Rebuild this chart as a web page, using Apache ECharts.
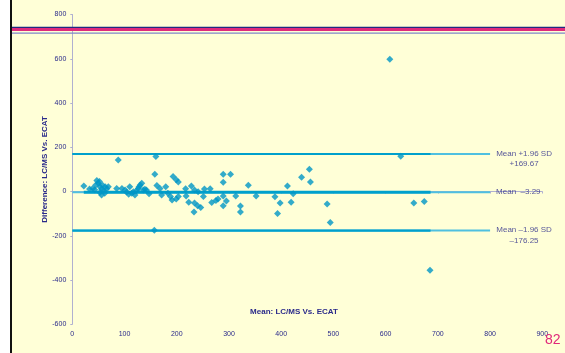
<!DOCTYPE html>
<html>
<head>
<meta charset="utf-8">
<script src="https://cdn.jsdelivr.net/npm/echarts@6/dist/echarts.min.js"></script>
<style>
  html, body { margin: 0; padding: 0; background: #ffffff; }
  #chart { width: 565px; height: 353px; }
</style>
</head>
<body>
<div id="chart"></div>
<script>
// Bland-Altman: mean of the two methods vs. their difference
const meanValues = [
  22, 33, 39, 43, 45, 47, 50, 52, 53, 53, 56, 56, 58, 60, 62, 63, 66, 69,
  85, 88, 95, 101, 104, 108, 110, 114, 117, 120, 123, 126, 128, 130, 133, 136, 139, 142, 147,
  157, 158, 160, 162, 168, 171, 179, 183, 188, 191, 193, 199, 199, 203, 203,
  217, 218, 223, 228, 233, 234, 234, 240, 241, 246, 251, 253, 264, 267, 275, 279,
  289, 289, 289, 289, 295, 303, 313, 322, 322, 337, 352,
  388, 393, 398, 412, 419, 423, 439, 454, 456, 488, 494,
  608, 629, 654, 674, 685,
];
const diffValues = [
  25, 11, 14, 8, 30, 50, 37, 45, 22, -4, 11, -16, 28, 5, -8, 22, 12, 22,
  14, 143, 14, 7, -2, -12, 22, -8, -1, -16, 4, 14, 22, 29, 37, 7, 10, 7, -10,
  -175, 78, 158, 27, 14, -16, 22, -8, -23, -38, 68, 53, -34, 43, -23,
  12, -20, -48, 25, -93, -52, 7, -64, -1, -72, -22, 11, 12, -50, -40, -34,
  -20, -64, 78, 42, -43, 78, -20, -65, -93, 28, -20,
  -24, -99, -52, 25, -49, -10, 65, 101, 43, -56, -140,
  598, 159, -52, -45, -356,
];

const limitLevels = [169.67, -3.29, -176.25];
const limitLabels = [
  ["Mean +1.96 SD", "+169.67"],
  ["Mean  \u20133.29"],
  ["Mean \u20131.96 SD", "\u2013176.25"],
];
const lineStart = [0, 22, 0];   // thick segment starts at the first mean value (mean line only)
const lineEnd = 686;            // thick segment ends at the last mean value
const extendEnd = 800;          // lighter extension

const X_TICKS = [0, 900, 100];
const Y_TICKS = [-600, 800, 200];

const points = meanValues.map((m, i) => [m, diffValues[i]]);

const TEXT = "#2A2A8A";
const FONT = "Liberation Sans, Arial, sans-serif";

const series = [];
limitLevels.forEach((v, i) => {
  series.push({
    type: "line",
    data: [[0, v], [extendEnd, v]],
    symbol: "none",
    silent: true,
    z: 1,
    lineStyle: { color: "#4FC0E0", width: 2 },
  });
  series.push({
    type: "line",
    data: [[lineStart[i], v], [lineEnd, v]],
    symbol: "none",
    silent: true,
    z: 2,
    lineStyle: { color: "#00A0CC", width: i === 1 ? 3 : 2.2 },
  });
});

series.push({
  type: "scatter",
  data: points,
  symbol: "diamond",
  symbolSize: 7,
  z: 5,
  itemStyle: { color: "#0096C6" },
});

series.push({
  type: "scatter",
  symbolSize: 0,
  silent: true,
  z: 6,
  data: limitLevels.map((v, i) => ({
    value: [extendEnd, v],
    label: {
      show: true,
      position: "right",
      distance: 6,
      offset: [0, limitLabels[i].length > 1 ? 5 : 0],
      formatter: limitLabels[i].length > 1
        ? "{a|" + limitLabels[i][0] + "}\n{b|" + limitLabels[i][1] + "}"
        : "{c|" + limitLabels[i][0] + "}",
      rich: {
        a: { width: 56, align: "center", color: TEXT, fontSize: 8, fontFamily: FONT, lineHeight: 10.5 },
        b: { width: 56, align: "center", color: TEXT, fontSize: 8, fontFamily: FONT, lineHeight: 10.5 },
        c: { color: TEXT, fontSize: 8, fontFamily: FONT },
      },
    },
  })),
});

const chart = echarts.init(document.getElementById("chart"), null, { renderer: "canvas" });
chart.setOption({
  animation: false,
  backgroundColor: "#FFFFD7",
  textStyle: { fontFamily: FONT },
  grid: { left: 72.3, right: 22.7, top: 14.5, bottom: 28.7 },
  title: {
    text: "Mean: LC/MS Vs. ECAT",
    left: 289,
    top: 303,
    textAlign: "center",
    textStyle: { color: TEXT, fontSize: 8, fontWeight: "bold", fontFamily: FONT },
  },
  xAxis: {
    type: "value",
    min: X_TICKS[0],
    max: X_TICKS[1],
    interval: X_TICKS[2],
    splitLine: { show: false },
    axisLine: { lineStyle: { color: "#B0B0D0", width: 1 } },
    axisTick: { length: 2, lineStyle: { color: "#B0B0D0" } },
    axisLabel: { color: TEXT, fontSize: 7, margin: 6 },
  },
  yAxis: {
    type: "value",
    min: Y_TICKS[0],
    max: Y_TICKS[1],
    interval: Y_TICKS[2],
    name: "Difference: LC/MS Vs. ECAT",
    nameLocation: "middle",
    nameGap: 24,
    nameMoveOverlap: false,
    nameTextStyle: { color: TEXT, fontSize: 8, fontWeight: "bold" },
    splitLine: { show: false },
    axisLine: { show: true, onZero: false, lineStyle: { color: "#B0B0D0", width: 1 } },
    axisTick: { show: true, length: 2, lineStyle: { color: "#B0B0D0" } },
    axisLabel: { color: TEXT, fontSize: 7, margin: 6 },
  },
  graphic: [
    { type: "rect", z: 100, shape: { x: 0, y: 0, width: 10, height: 353 }, style: { fill: "#ffffff" } },
    { type: "rect", z: 100, shape: { x: 10, y: 0, width: 2, height: 353 }, style: { fill: "#111111" } },
    { type: "rect", z: 100, shape: { x: 12, y: 26.8, width: 553, height: 1.2 }, style: { fill: "#1F2A80" } },
    { type: "rect", z: 100, shape: { x: 12, y: 28, width: 553, height: 3 }, style: { fill: "#DF2A7C" } },
    { type: "rect", z: 100, shape: { x: 12, y: 32.6, width: 553, height: 1.2 }, style: { fill: "#7E86C8" } },
    {
      type: "text", z: 100, left: 545, top: 333,
      style: { text: "82", fill: "#E0287A", font: "14px " + FONT },
    },
  ],
  series,
});
</script>
</body>
</html>
